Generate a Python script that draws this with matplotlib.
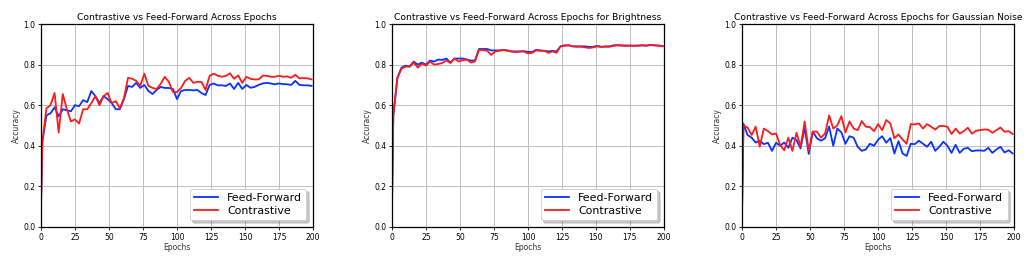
import matplotlib
matplotlib.use("Agg")
import matplotlib.pyplot as plt
import numpy as np

epochs = [0] + list(range(1, 200, 3))

overall_ff = [0.10, 0.42, 0.55, 0.56, 0.59, 0.545, 0.58, 0.575, 0.57, 0.60, 0.595,
              0.625, 0.615, 0.67, 0.645, 0.61, 0.645, 0.63, 0.61, 0.58, 0.58,
              0.63, 0.695, 0.69, 0.71, 0.685, 0.70, 0.67, 0.655, 0.675, 0.69,
              0.685, 0.685, 0.68, 0.63, 0.67, 0.675, 0.675, 0.673, 0.675, 0.66,
              0.65, 0.70, 0.707, 0.698, 0.698, 0.695, 0.707, 0.68, 0.71, 0.68,
              0.70, 0.686, 0.69, 0.70, 0.707, 0.71, 0.707, 0.703, 0.707, 0.704,
              0.703, 0.70, 0.72, 0.70, 0.698, 0.698, 0.695]
overall_con = [0.10, 0.42, 0.585, 0.60, 0.66, 0.465, 0.655, 0.58, 0.52, 0.53, 0.51,
               0.58, 0.58, 0.61, 0.645, 0.60, 0.645, 0.66, 0.61, 0.62, 0.585,
               0.635, 0.735, 0.73, 0.72, 0.695, 0.755, 0.695, 0.685, 0.68, 0.705,
               0.74, 0.715, 0.665, 0.665, 0.685, 0.72, 0.735, 0.71, 0.715, 0.715,
               0.675, 0.745, 0.755, 0.745, 0.74, 0.745, 0.757, 0.73, 0.747, 0.71,
               0.74, 0.73, 0.727, 0.727, 0.745, 0.745, 0.74, 0.74, 0.745, 0.74,
               0.742, 0.735, 0.75, 0.732, 0.734, 0.732, 0.727]

bright_ff = [0.10, 0.55, 0.735, 0.785, 0.795, 0.79, 0.815, 0.80, 0.81, 0.80, 0.82,
             0.815, 0.825, 0.823, 0.83, 0.81, 0.83, 0.83, 0.83, 0.825, 0.82,
             0.82, 0.877, 0.877, 0.877, 0.87, 0.87, 0.87, 0.873, 0.87, 0.865,
             0.865, 0.865, 0.866, 0.863, 0.862, 0.873, 0.87, 0.868, 0.865, 0.868,
             0.865, 0.89, 0.895, 0.895, 0.89, 0.89, 0.89, 0.89, 0.887, 0.888,
             0.892, 0.888, 0.89, 0.89, 0.895, 0.896, 0.895, 0.894, 0.894, 0.893,
             0.894, 0.895, 0.894, 0.897, 0.895, 0.894, 0.892]
bright_con = [0.10, 0.55, 0.735, 0.78, 0.79, 0.79, 0.81, 0.785, 0.805, 0.795, 0.815,
              0.80, 0.803, 0.808, 0.82, 0.808, 0.83, 0.815, 0.822, 0.825, 0.81,
              0.815, 0.872, 0.872, 0.868, 0.848, 0.865, 0.868, 0.872, 0.868, 0.864,
              0.862, 0.864, 0.865, 0.855, 0.858, 0.87, 0.868, 0.868, 0.858, 0.865,
              0.858, 0.89, 0.893, 0.895, 0.89, 0.888, 0.888, 0.885, 0.882, 0.885,
              0.89, 0.887, 0.888, 0.888, 0.893, 0.895, 0.893, 0.892, 0.893, 0.893,
              0.893, 0.895, 0.893, 0.896, 0.895, 0.893, 0.89]

noise_ff = [0.10, 0.51, 0.453, 0.44, 0.416, 0.425, 0.408, 0.415, 0.375, 0.415, 0.40,
            0.416, 0.39, 0.44, 0.428, 0.387, 0.49, 0.36, 0.47, 0.437, 0.425,
            0.437, 0.495, 0.40, 0.485, 0.466, 0.41, 0.447, 0.44, 0.395, 0.375,
            0.382, 0.41, 0.40, 0.43, 0.447, 0.415, 0.438, 0.362, 0.423, 0.362,
            0.35, 0.41, 0.408, 0.425, 0.41, 0.395, 0.42, 0.375, 0.395, 0.42,
            0.40, 0.365, 0.405, 0.365, 0.385, 0.39, 0.373, 0.377, 0.377, 0.375,
            0.39, 0.365, 0.382, 0.395, 0.367, 0.378, 0.362]
noise_con = [0.10, 0.50, 0.49, 0.453, 0.494, 0.395, 0.485, 0.472, 0.456, 0.46, 0.403,
             0.378, 0.44, 0.375, 0.464, 0.395, 0.52, 0.375, 0.47, 0.47, 0.44,
             0.46, 0.55, 0.485, 0.50, 0.546, 0.466, 0.52, 0.485, 0.477, 0.522,
             0.494, 0.492, 0.472, 0.507, 0.477, 0.527, 0.51, 0.437, 0.456, 0.431,
             0.41, 0.507, 0.505, 0.51, 0.485, 0.507, 0.494, 0.48, 0.497, 0.498,
             0.494, 0.458, 0.485, 0.46, 0.472, 0.489, 0.46, 0.474, 0.477, 0.48,
             0.48, 0.464, 0.477, 0.49, 0.469, 0.472, 0.458]

titles = ["Contrastive vs Feed-Forward Across Epochs",
          "Contrastive vs Feed-Forward Across Epochs for Brightness",
          "Contrastive vs Feed-Forward Across Epochs for Gaussian Noise"]
series = [(overall_ff, overall_con), (bright_ff, bright_con), (noise_ff, noise_con)]
labels = ["Feed-Forward", "Contrastive"]
xticks = [0, 25, 50, 75, 100, 125, 150, 175, 200]
yticks = [0.0, 0.2, 0.4, 0.6, 0.8, 1.0]

fig = plt.figure(figsize=(10.35, 2.67), dpi=100)
lefts = [0.0396, 0.3787, 0.717]
for left, title, (ff, con) in zip(lefts, titles, series):
    ax = fig.add_axes([left, 0.150, 0.2628, 0.760])
    ax.plot(epochs, ff, color="#0a32ff", lw=1.3, label=labels[0])
    ax.plot(epochs, con, color="#ff1a1a", lw=1.3, label=labels[1])
    ax.set_xlim(0, 200)
    ax.set_ylim(0, 1.0)
    ax.set_xticks(xticks)
    ax.set_yticks(yticks)
    ax.set_yticklabels([f"{v:.1f}" for v in yticks])
    ax.grid(True, color="#bdbdbd", lw=0.7)
    ax.set_axisbelow(True)
    ax.tick_params(labelsize=5.5, length=2.5, width=0.6, pad=1.5)
    ax.set_title(title, fontsize=6.6, pad=3)
    ax.set_xlabel("Epochs", fontsize=5.5, labelpad=1, color="#333333")
    ax.set_ylabel("Accuracy", fontsize=5.5, labelpad=2, color="#333333")
    for s in ax.spines.values():
        s.set_linewidth(0.9)
    leg = ax.legend(loc="lower right", fontsize=7.9, shadow={"alpha": 0.3},
                    fancybox=True, framealpha=1, handlelength=2.2, borderpad=0.4,
                    labelspacing=0.25, borderaxespad=0.6)
    leg.get_frame().set_linewidth(0.6)

fig.savefig("out.png", dpi=100)
